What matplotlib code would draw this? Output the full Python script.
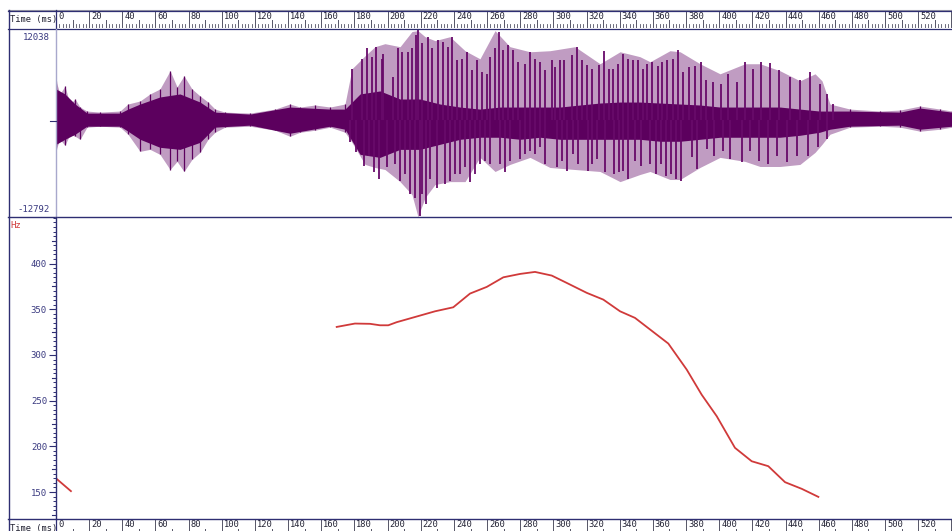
"""
Waveform and pitch contour view (speech analysis screen).
"""

import matplotlib
matplotlib.use("Agg")
import matplotlib.pyplot as plt
from matplotlib.transforms import blended_transform_factory
import numpy as np


W, H = 952, 531
T_MAX = 540.4

# waveform envelope: peak extent (ms, amplitude)
outer_t = [0, 2.4, 5.4, 8.4, 11.5, 14.5, 18.7, 26.5, 38.6, 43.4, 50.7, 56.7,
           62.7, 68.8, 73.0, 77.2, 82.0, 86.9, 91.7, 95.9, 101.9, 117.0,
           132.1, 141.1, 147.2, 156.2, 165.3, 174.3, 178.5, 186.4, 192.4,
           198.4, 207.5, 214.7, 218.3, 222.6, 228.6, 237.6, 246.7, 255.7,
           264.8, 273.8, 285.9, 297.9, 313.0, 328.1, 340.2, 352.2, 358.3,
           370.3, 376.4, 388.4, 400.5, 415.6, 424.6, 436.7, 448.7, 457.8,
           462.0, 466.8, 478.9, 497.0, 509.0, 521.1, 533.2, 540.4]
outer_top = [5190, 3460, 4520, 2130, 2790, 1730, 1200, 1060, 1200, 2130, 2530,
             3460, 4120, 6520, 4390, 5850, 4120, 3190, 2390, 1460, 1060, 930,
             1460, 2130, 1730, 2000, 1730, 2130, 6780, 8500, 9700, 10100,
             9700, 11700, 11820, 11020, 10500, 11020, 9170, 8100, 11820, 9700,
             9030, 9170, 9700, 7450, 9030, 8380, 7710, 9170, 9030, 7450, 6120,
             7450, 7450, 6520, 5190, 6120, 5190, 2130, 1460, 1200, 1330, 1860,
             1460, 1200]
outer_bot = [-3860, -2530, -3330, -1860, -2130, -2530, -930, -800, -930,
             -1860, -4120, -3860, -4520, -6520, -5450, -6780, -5190, -4260,
             -2530, -1600, -930, -800, -1330, -2130, -1600, -1330, -930,
             -1600, -2930, -5850, -6250, -6520, -8120, -9840, -12760, -10230,
             -8500, -8120, -8120, -4920, -6780, -5850, -4920, -6250, -6520,
             -6780, -8120, -7180, -6780, -7840, -7840, -6250, -4920, -5450,
             -6120, -6120, -5850, -4260, -3190, -1860, -930, -800, -930, -1460,
             -1200, -930]

# dense (dark) body of the waveform
inner_t = [0, 5.4, 11.5, 18.7, 38.6, 43.4, 50.7, 62.7, 74.8, 86.9, 95.9,
           117.0, 141.1, 165.3, 174.3, 183.4, 195.4, 207.5, 219.5, 231.6,
           243.7, 255.7, 267.8, 279.9, 291.9, 304.0, 316.0, 328.1, 340.2,
           352.2, 364.3, 376.4, 388.4, 400.5, 412.5, 424.6, 436.7, 448.7,
           460.6, 466.8, 478.9, 509.0, 521.1, 540.4]
inner_top = [4120, 3460, 2130, 930, 930, 1460, 2130, 3060, 3460, 2390, 1060,
             800, 1730, 1460, 1460, 3460, 3860, 2790, 2790, 2130, 1730, 1460,
             1730, 1730, 1730, 1730, 2000, 2260, 2390, 2390, 2260, 2130, 2000,
             1730, 1730, 1730, 1730, 1460, 1200, 1200, 1200, 1060, 1600, 1060]
inner_bot = [-3190, -2530, -1860, -800, -800, -1460, -2530, -3590, -3860,
             -2930, -930, -660, -1730, -800, -1200, -4520, -4920, -3860,
             -3860, -3190, -2530, -2260, -2260, -2530, -2260, -2530, -2530,
             -2530, -2530, -2530, -2790, -2790, -2530, -2260, -2260, -2260,
             -2260, -2000, -1600, -1200, -800, -660, -1200, -800]

# individual glottal pulse peaks in the voiced part (ms, amplitude)
spike_up_t = [178.3, 184.4, 187.4, 190.4, 193.0, 196.4, 197.4, 203.4, 206.5,
              208.5, 212.5, 214.5, 217.1, 218.5, 220.6, 224.2, 226.6, 230.2,
              233.2, 236.2, 238.7, 241.7, 244.7, 247.7, 250.7, 253.7, 256.8,
              259.8, 261.8, 264.8, 267.4, 269.8, 272.8, 275.8, 278.8, 282.9,
              285.9, 288.9, 291.9, 294.9, 299.0, 301.0, 304.0, 306.4, 311.0,
              314.1, 317.1, 320.1, 323.1, 327.7, 330.7, 333.5, 336.1, 339.1,
              341.8, 344.8, 347.8, 350.8, 353.8, 356.6, 359.6, 362.9, 365.6,
              368.7, 371.9, 374.9, 377.9, 381.9, 385.4, 389.0, 392.0, 396.5,
              400.9, 405.5, 410.6, 415.6, 420.2, 425.2, 430.6, 436.3, 442.7,
              448.7, 454.8, 460.8, 464.8, 468.8]
spike_up = [6810, 8140, 9470, 8370, 9690, 8140, 8800, 5710, 9470, 9030, 9030,
            9470, 11250, 11910, 10130, 11020, 9470, 10580, 10360, 9690, 11020,
            7930, 8140, 9030, 6600, 7930, 6370, 6150, 8370, 9470, 11690, 9250,
            9920, 9250, 7700, 7480, 9030, 8140, 7700, 6600, 7930, 7040, 7930,
            7930, 8590, 9690, 7930, 7260, 6810, 7260, 9160, 6810, 6810, 7480,
            8800, 8140, 7930, 7930, 6810, 7480, 7700, 7130, 7700, 7930, 8140,
            9250, 6370, 7040, 7130, 7700, 5270, 5050, 4820, 6150, 5050, 7700,
            6810, 7700, 7570, 6600, 5710, 5270, 6370, 4820, 3500, 2170]
spike_dn_t = [177.3, 180.9, 185.8, 189.0, 192.0, 195.0, 199.4, 204.5, 207.5,
              210.5, 213.5, 216.5, 219.5, 220.6, 223.2, 225.6, 229.6, 234.6,
              237.6, 240.7, 243.7, 246.7, 249.7, 252.7, 255.7, 258.7, 261.8,
              267.8, 270.8, 273.8, 279.9, 282.9, 285.9, 288.9, 291.9, 294.9,
              302.0, 305.0, 308.0, 312.0, 315.0, 321.1, 323.1, 326.1, 331.1,
              336.6, 339.8, 342.2, 345.2, 349.2, 352.8, 358.3, 361.7, 364.7,
              367.9, 370.7, 373.8, 376.8, 383.4, 386.8, 392.8, 396.9, 402.1,
              406.5, 413.9, 418.6, 424.0, 429.6, 434.6, 441.1, 446.7, 453.7,
              459.8, 464.8]
spike_dn = [-2920, -4250, -6020, -4690, -6910, -7790, -6240, -5800, -8010,
            -7130, -9780, -10230, -12660, -9780, -11110, -7790, -8900, -8460,
            -8010, -7130, -7130, -6240, -8230, -7130, -5800, -5360, -5800,
            -5800, -6910, -5360, -5140, -4470, -4030, -4470, -3590, -5800,
            -6240, -5360, -6690, -4470, -5800, -6690, -5800, -5140, -6910,
            -7130, -6910, -6690, -7790, -5360, -6020, -5800, -7130, -5800,
            -7350, -7130, -7790, -8010, -4910, -6460, -3810, -4690, -4030,
            -5140, -5580, -4030, -5360, -5800, -4690, -5580, -4690, -4690,
            -3590, -2480]

# pitch contour (ms, Hz), two voiced stretches
pitch1_t = [0, 9]
pitch1_hz = [165, 151]
pitch2_t = [169.3, 180.3, 189.4, 195.4, 200.4, 205.5, 219.5, 228.6, 239.6,
            249.7, 259.8, 269.8, 279.9, 288.9, 299.0, 308.0, 320.1, 330.1,
            340.2, 349.2, 369.3, 380.4, 389.4, 398.5, 409.5, 419.6, 429.6,
            439.7, 449.8, 459.8]
pitch2_hz = [330.7, 334.4, 334.1, 332.5, 332.5, 335.9, 343.1, 347.8, 352.2,
             367.2, 374.5, 385.0, 388.7, 390.9, 386.9, 378.9, 368.0, 360.6,
             347.8, 340.6, 312.5, 284.0, 256.6, 233.0, 198.4, 183.7, 178.3,
             160.8, 153.5, 144.7]

WAVE_MIN, WAVE_MAX = -12792, 12038
HZ_MIN, HZ_MAX = 120.5, 451
HZ_TICKS = [150, 200, 250, 300, 350, 400]

NAVY = "#2e2e72"
LABEL = "#3a3a80"
DARK = "#5c005e"
SPIKE = "#680a6a"
LIGHT = "#c09cc2"
RED = "#d03a3a"
MONO = "DejaVu Sans Mono"


def _rect(x0, y0, x1, y1):
    """Pixel box (top-left origin) to figure fraction rect."""
    return [x0 / W, 1 - y1 / H, (x1 - x0) / W, (y1 - y0) / H]


def _bare(ax):
    for s in ax.spines.values():
        s.set_visible(False)
    ax.set_xticks([])
    ax.set_yticks([])
    ax.patch.set_alpha(0)


def _drawRuler(fig, y0, y1):
    """Time ruler: label every 20 ms, ticks every 2 ms."""
    ax = fig.add_axes(_rect(56, y0, W, y1))
    _bare(ax)
    ax.set_xlim(0, T_MAX)
    ax.set_ylim(0, 1)
    for ms in np.arange(0, T_MAX, 2):
        if ms % 20 == 0:
            ax.plot([ms, ms], [0, 1], color="#555566", lw=0.7)
            if ms < T_MAX - 10:
                ax.text(ms + 1.2, 0.93, "%d" % ms, fontsize=6.3, family=MONO,
                        color="#222233", va="top", ha="left")
        elif ms % 10 == 0:
            ax.plot([ms, ms], [0, 0.45], color="#555566", lw=0.7)
        else:
            ax.plot([ms, ms], [0, 0.25], color="#555566", lw=0.6)
    return ax


def main():
    fig = plt.figure(figsize=(W / 100, H / 100), dpi=100)
    fig.patch.set_facecolor("white")

    # Waveform panel
    wave = fig.add_axes(_rect(56, 29, W, 217))
    _bare(wave)
    wave.set_xlim(0, T_MAX)
    wave.set_ylim(WAVE_MIN, WAVE_MAX)
    wave.fill_between(outer_t, outer_bot, outer_top, color=LIGHT, lw=0)
    ot = np.array(outer_t)
    quiet = (ot < 176) | (ot > 467)
    wave.vlines(ot[quiet], np.array(outer_bot)[quiet],
                np.array(outer_top)[quiet], color=DARK, lw=0.9)
    wave.vlines(spike_up_t, 0, spike_up, color=SPIKE, lw=1.3)
    wave.vlines(spike_dn_t, spike_dn, 0, color=SPIKE, lw=1.3)
    wave.fill_between(inner_t, inner_bot, inner_top, color=DARK, lw=0)

    # Pitch panel
    pitch = fig.add_axes(_rect(56, 217, W, 519))
    for s in pitch.spines.values():
        s.set_visible(False)
    pitch.patch.set_alpha(0)
    pitch.set_xlim(0, T_MAX)
    pitch.set_ylim(HZ_MIN, HZ_MAX)
    pitch.set_xticks([])
    pitch.set_yticks(HZ_TICKS)
    pitch.set_yticks(np.arange(125, 451, 5), minor=True)
    pitch.tick_params(axis="y", which="major", length=5, width=0.8,
                      color=NAVY, labelsize=6.5, labelcolor=LABEL, pad=1.5)
    pitch.tick_params(axis="y", which="minor", length=2.2, width=0.7,
                      color=NAVY)
    for lab in pitch.get_yticklabels():
        lab.set_family(MONO)
    trans = blended_transform_factory(pitch.transAxes, pitch.transData)
    for hz in np.arange(125, 451, 50):
        pitch.plot([-0.0045, 0], [hz, hz], color=NAVY, lw=0.8,
                   transform=trans, clip_on=False)
    pitch.plot(pitch1_t, pitch1_hz, color=RED, lw=1.3, clip_on=True)
    pitch.plot(pitch2_t, pitch2_hz, color=RED, lw=1.3)

    # Rulers
    _drawRuler(fig, 11, 28)
    _drawRuler(fig, 519, 537)

    # Frame and side labels in pixel coordinates
    ov = fig.add_axes([0, 0, 1, 1], zorder=5)
    _bare(ov)
    ov.set_xlim(0, W)
    ov.set_ylim(H, 0)
    ov.plot([8, W], [9.5, 9.5], color="#9a9aa6", lw=0.8)
    ov.plot([8, W], [10.5, 10.5], color=NAVY, lw=0.9)
    ov.plot([8, W], [28.5, 28.5], color=NAVY, lw=0.9)
    ov.plot([8, W], [217, 217], color=NAVY, lw=1.0)
    ov.plot([8, W], [518.5, 518.5], color=NAVY, lw=1.0)
    ov.plot([8.5, 8.5], [10, H], color=NAVY, lw=1.0)
    ov.plot([55.5, 55.5], [10, 28.5], color=NAVY, lw=0.9)
    ov.plot([55.5, 55.5], [29, 217], color="#a8a8cc", lw=1.0)
    ov.plot([55.5, 55.5], [217, 519], color=NAVY, lw=1.0)
    ov.plot([55.5, 55.5], [519, H], color=NAVY, lw=0.9)
    ov.plot([50, 55.5], [121, 121], color=NAVY, lw=0.8)

    ov.text(10, 19.5, "Time (ms)", fontsize=6.3, family=MONO,
            color="#222233", va="center", ha="left")
    ov.text(10, 528, "Time (ms)", fontsize=6.3, family=MONO,
            color="#222233", va="center", ha="left")
    ov.text(50, 38, "12038", fontsize=6.5, family=MONO, color=LABEL,
            va="center", ha="right")
    ov.text(50, 209, "-12792", fontsize=6.5, family=MONO, color=LABEL,
            va="center", ha="right")
    ov.text(10, 226, "Hz", fontsize=6.5, family=MONO, color=RED,
            va="center", ha="left")

    fig.savefig("out.png", dpi=100, facecolor="white")


if __name__ == "__main__":
    main()
